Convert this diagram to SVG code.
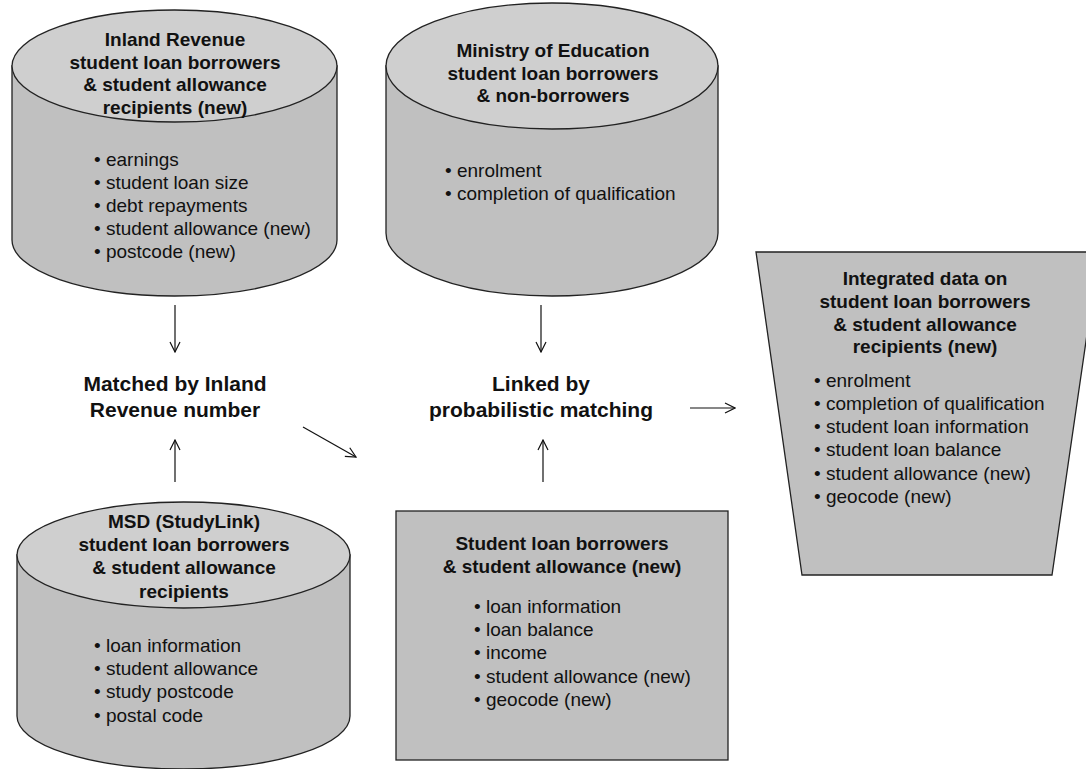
<svg xmlns="http://www.w3.org/2000/svg" width="1086" height="769" viewBox="0 0 1086 769">
<style>
.body{fill:#c0c0c0;stroke:#222;stroke-width:1.3}
.top{fill:#cfcfcf;stroke:#222;stroke-width:1.3}
.t{font-family:"Liberation Sans",Arial,sans-serif;font-size:19px;fill:#111}
.b{font-weight:bold;text-anchor:middle}
.lab{font-family:"Liberation Sans",Arial,sans-serif;font-size:21px;font-weight:bold;fill:#111;text-anchor:middle}
.c{stroke:#111;stroke-width:1.2;fill:none;marker-end:url(#ah)}
</style>
<defs>
<marker id="ah" viewBox="0 0 12 12" refX="11" refY="6" markerWidth="12" markerHeight="12" markerUnits="userSpaceOnUse" orient="auto">
<path d="M1,1 L11,6 L1,11" fill="none" stroke="#111" stroke-width="1.2"/>
</marker>
</defs>
<rect width="1086" height="769" fill="#fff"/>

<g id="inland-revenue">
<path class="body" d="M12,66 L12,240 A162.5,56 0 0 0 337,240 L337,66 Z"/>
<ellipse class="top" cx="174.5" cy="66" rx="162.5" ry="56"/>
<text class="t b" x="175" y="46">Inland Revenue</text>
<text class="t b" x="175" y="68.5">student loan borrowers</text>
<text class="t b" x="175" y="91">&amp; student allowance</text>
<text class="t b" x="175" y="113.5">recipients (new)</text>
<text class="t" x="94" y="166">• earnings</text>
<text class="t" x="94" y="189">• student loan size</text>
<text class="t" x="94" y="212">• debt repayments</text>
<text class="t" x="94" y="235">• student allowance (new)</text>
<text class="t" x="94" y="258">• postcode (new)</text>
</g>

<g id="ministry-education">
<path class="body" d="M386,66 L386,233 A166,63 0 0 0 718,233 L718,66 Z"/>
<ellipse class="top" cx="552" cy="66" rx="166" ry="63"/>
<text class="t b" x="553" y="57">Ministry of Education</text>
<text class="t b" x="553" y="79.5">student loan borrowers</text>
<text class="t b" x="553" y="102">&amp; non-borrowers</text>
<text class="t" x="445" y="177">• enrolment</text>
<text class="t" x="445" y="200">• completion of qualification</text>
</g>

<g id="msd">
<path class="body" d="M17,555 L17,716 A166.5,53 0 0 0 350,716 L350,555 Z"/>
<ellipse class="top" cx="183.5" cy="555" rx="166.5" ry="53"/>
<text class="t b" x="184" y="528">MSD (StudyLink)</text>
<text class="t b" x="184" y="551">student loan borrowers</text>
<text class="t b" x="184" y="574">&amp; student allowance</text>
<text class="t b" x="184" y="598">recipients</text>
<text class="t" x="94" y="652">• loan information</text>
<text class="t" x="94" y="675">• student allowance</text>
<text class="t" x="94" y="698">• study postcode</text>
<text class="t" x="94" y="722">• postal code</text>
</g>

<g id="student-loan-box">
<rect class="body" x="396" y="511" width="332" height="249"/>
<text class="t b" x="562" y="550">Student loan borrowers</text>
<text class="t b" x="562" y="573">&amp; student allowance (new)</text>
<text class="t" x="474" y="613">• loan information</text>
<text class="t" x="474" y="636">• loan balance</text>
<text class="t" x="474" y="659">• income</text>
<text class="t" x="474" y="683">• student allowance (new)</text>
<text class="t" x="474" y="706">• geocode (new)</text>
</g>

<g id="integrated">
<polygon class="body" points="756,252 1099,252 1052,575 802,575"/>
<text class="t b" x="925" y="285">Integrated data on</text>
<text class="t b" x="925" y="308">student loan borrowers</text>
<text class="t b" x="925" y="331">&amp; student allowance</text>
<text class="t b" x="925" y="353">recipients (new)</text>
<text class="t" x="814" y="387">• enrolment</text>
<text class="t" x="814" y="410">• completion of qualification</text>
<text class="t" x="814" y="433">• student loan information</text>
<text class="t" x="814" y="456">• student loan balance</text>
<text class="t" x="814" y="480">• student allowance (new)</text>
<text class="t" x="814" y="503">• geocode (new)</text>
</g>

<g id="matched">
<text class="lab" x="175" y="391">Matched by Inland</text>
<text class="lab" x="175" y="417">Revenue number</text>
</g>

<g id="linked">
<text class="lab" x="541" y="391">Linked by</text>
<text class="lab" x="541" y="417">probabilistic matching</text>
</g>

<g id="connectors">
<line class="c" x1="175" y1="305" x2="175" y2="352"/>
<line class="c" x1="541" y1="305" x2="541" y2="352"/>
<line class="c" x1="175" y1="482" x2="175" y2="440"/>
<line class="c" x1="543" y1="482" x2="543" y2="440"/>
<line class="c" x1="303" y1="427" x2="356" y2="457"/>
<line class="c" x1="690" y1="408" x2="735" y2="408"/>
</g>
</svg>
